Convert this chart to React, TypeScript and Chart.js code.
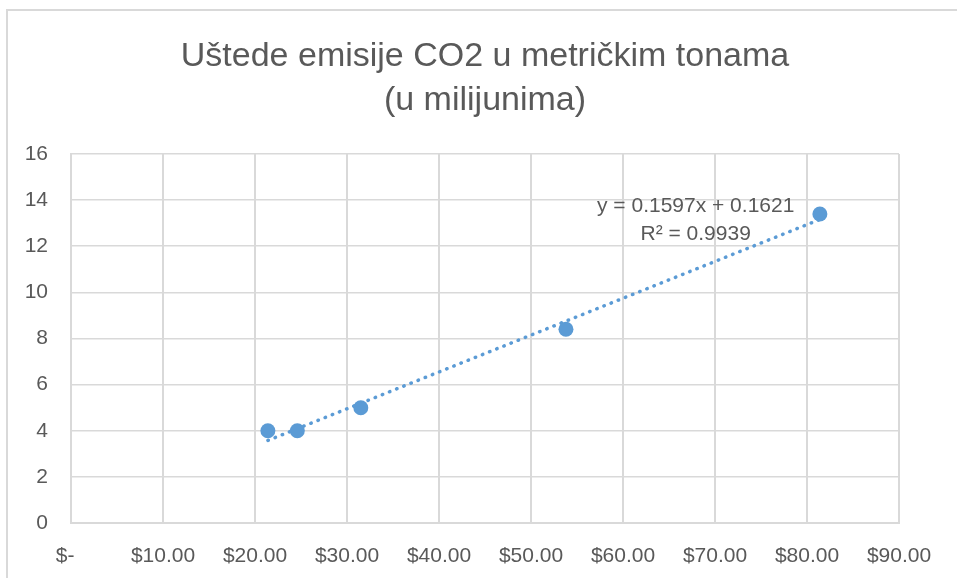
import React, { useEffect, useRef } from "react";
import { Chart, registerables } from "chart.js";

Chart.register(...registerables);

// ---- data ----
const priceX = [21.4, 24.6, 31.5, 53.8, 81.4];
const savingsY = [4.0, 4.0, 5.0, 8.4, 13.4];
const titleLines = ["Uštede emisije CO2 u metričkim tonama", "(u milijunima)"];
const trendSlope = 0.1597;
const trendIntercept = 0.1621;
const equationLines = ["y = 0.1597x + 0.1621", "R² = 0.9939"];
const xMin = 0;
const xMax = 90;
const xStep = 10;
const yMin = 0;
const yMax = 16;
const yStep = 2;

const FONT = '"Liberation Sans", Arial, sans-serif';
const TEXT = "#595959";
const GRID = "#d9d9d9";
const BLUE = "#5B9BD5";

const equationPlugin = {
  id: "equationLabel",
  afterDatasetsDraw(chart: any) {
    const { ctx, scales } = chart;
    const x = scales.x;
    const y = scales.y;
    const cx = x.getPixelForValue(67.9);
    const cy = y.getPixelForValue(13.72);
    ctx.save();
    ctx.font = `21px ${FONT}`;
    ctx.fillStyle = TEXT;
    ctx.textAlign = "center";
    ctx.textBaseline = "middle";
    ctx.fillText(equationLines[0], cx, cy);
    ctx.fillText(equationLines[1], cx, cy + 28);
    ctx.restore();
  },
};

export default function App() {
  const canvasRef = useRef<HTMLCanvasElement | null>(null);

  useEffect(() => {
    const canvas = canvasRef.current;
    if (!canvas) return;
    const points = priceX.map((x, i) => ({ x, y: savingsY[i] }));
    const tx0 = Math.min(...priceX);
    const tx1 = Math.max(...priceX);
    const trend = [
      { x: tx0, y: trendSlope * tx0 + trendIntercept },
      { x: tx1, y: trendSlope * tx1 + trendIntercept },
    ];
    const chart = new Chart(canvas, {
      type: "scatter",
      data: {
        datasets: [
          {
            label: "Uštede",
            data: points,
            backgroundColor: BLUE,
            borderColor: BLUE,
            borderWidth: 0,
            pointRadius: 7.5,
            showLine: false,
          },
          {
            label: "Trend",
            data: trend,
            showLine: true,
            borderColor: BLUE,
            borderWidth: 3.5,
            borderDash: [0.5, 7.2],
            borderCapStyle: "round",
            pointRadius: 0,
            fill: false,
          } as any,
        ],
      },
      options: {
        responsive: false,
        animation: false,
        layout: { padding: { left: 0, right: 58, top: 0, bottom: 0 } },
        plugins: {
          legend: { display: false },
          tooltip: { enabled: false },
          title: {
            display: true,
            fullSize: false,
            text: titleLines,
            color: TEXT,
            font: { family: FONT, size: 34, weight: "normal", lineHeight: 1.294 },
            padding: { top: 35, bottom: 31 },
          },
        },
        scales: {
          x: {
            type: "linear",
            min: xMin,
            max: xMax,
            ticks: {
              stepSize: xStep,
              color: TEXT,
              font: { family: FONT, size: 21 },
              padding: 21,
              maxRotation: 0,
              autoSkip: false,
              callback: (v: any) => (Number(v) === 0 ? "$-  " : "$" + Number(v).toFixed(2)),
            },
            grid: { color: GRID, lineWidth: 2, drawTicks: false },
            border: { display: true, color: GRID, width: 2 },
            afterFit: (scale: any) => {
              scale.height = 55;
            },
          },
          y: {
            type: "linear",
            min: yMin,
            max: yMax,
            ticks: {
              stepSize: yStep,
              color: TEXT,
              font: { family: FONT, size: 21 },
              padding: 23,
            },
            grid: { color: GRID, lineWidth: 1.5, drawTicks: false },
            border: { display: true, color: GRID, width: 2 },
            afterFit: (scale: any) => {
              scale.width = 71;
            },
          },
        },
      },
      plugins: [equationPlugin],
    } as any);
    return () => chart.destroy();
  }, []);

  return (
    <div
      style={{
        position: "fixed",
        left: 0,
        top: 0,
        width: 957,
        height: 578,
        overflow: "hidden",
        background: "#fff",
      }}
    >
      <div
        style={{
          position: "absolute",
          left: 6,
          top: 9,
          width: 1000,
          height: 1000,
          border: "2px solid #d9d9d9",
          boxSizing: "border-box",
        }}
      />
      <canvas
        ref={canvasRef}
        width={957}
        height={578}
        style={{ position: "absolute", left: 0, top: 0, width: 957, height: 578 }}
      />
    </div>
  );
}
